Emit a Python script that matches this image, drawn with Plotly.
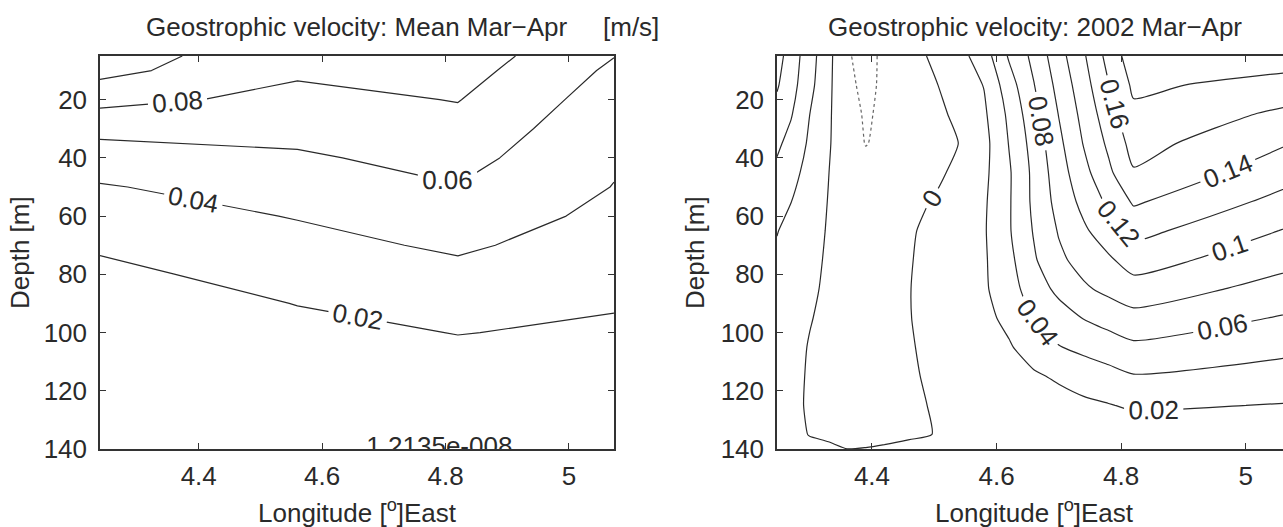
import plotly.graph_objects as go

# ---------------- data: mean Mar-Apr section ----------------
lon_mean = [4.24, 4.56, 4.82, 5.073]
depth_mean = [5, 10, 20, 30, 40, 50, 60, 70, 80, 90, 100, 110, 120, 130, 140]
# rows = depth, columns = longitude  [m/s]
vel_mean = [
    [0.110, 0.086, 0.0914, 0.0605],
    [0.106, 0.083, 0.0879, 0.0565],
    [0.086, 0.0745, 0.0807, 0.0505],
    [0.0655, 0.066, 0.0736, 0.0455],
    [0.0505, 0.0575, 0.0664, 0.0425],
    [0.0385, 0.0492, 0.0593, 0.0395],
    [0.0305, 0.041, 0.0513, 0.035],
    [0.0225, 0.034, 0.043, 0.0305],
    [0.0155, 0.0273, 0.0348, 0.026],
    [0.0085, 0.0205, 0.0276, 0.0215],
    [0.0045, 0.0145, 0.0205, 0.017],
    [0.003, 0.0105, 0.0145, 0.0125],
    [0.002, 0.007, 0.0095, 0.008],
    [0.001, 0.0035, 0.0045, 0.004],
    [0.0, 0.0, 0.0, 0.0],
]

# ---------------- data: 2002 Mar-Apr section ----------------
lon_2002 = [4.2475, 4.27, 4.30, 4.33, 4.36, 4.39, 4.42, 4.46, 4.50, 4.54,
            4.58, 4.62, 4.66, 4.70, 4.74, 4.78, 4.82, 5.07]
depth_2002 = [5, 15, 25, 35, 45, 55, 65, 75, 85, 95, 105, 115, 125, 135, 140]
vel_2002 = [
    [0.068, 0.0507, 0.0285, 0.0054, -0.0184, -0.025, -0.0168, -0.0069, 0.0031, 0.0133, 0.0304, 0.0622, 0.0853, 0.1124, 0.1376, 0.1667, 0.192, 0.19],
    [0.062, 0.0475, 0.0256, 0.0041, -0.0166, -0.0235, -0.0174, -0.0095, -0.0016, 0.009, 0.0207, 0.0512, 0.0793, 0.1062, 0.1318, 0.1593, 0.1838, 0.1722],
    [0.0533, 0.0416, 0.0201, 0.0029, -0.0147, -0.0215, -0.0176, -0.0111, -0.0046, 0.0039, 0.0168, 0.044, 0.0733, 0.1007, 0.1263, 0.1514, 0.1756, 0.1555],
    [0.0438, 0.0333, 0.017, 0.002, -0.013, -0.0205, -0.017, -0.011, -0.0055, 0.0002, 0.0138, 0.0407, 0.0679, 0.0953, 0.1211, 0.1438, 0.1674, 0.1405],
    [0.0356, 0.0262, 0.0135, 0.0004, -0.011, -0.0155, -0.0135, -0.0085, -0.005, 0.0054, 0.0156, 0.0377, 0.0648, 0.0909, 0.1139, 0.1361, 0.1583, 0.1271],
    [0.0282, 0.0203, 0.0096, -0.0006, -0.008, -0.0115, -0.010, -0.006, 0.0014, 0.0094, 0.0174, 0.038, 0.0642, 0.0868, 0.1058, 0.1239, 0.1425, 0.1129],
    [0.0207, 0.0145, 0.0063, -0.0013, -0.006, -0.008, -0.007, -0.002, 0.0047, 0.0114, 0.0182, 0.0381, 0.0615, 0.0815, 0.0969, 0.1112, 0.1262, 0.0981],
    [0.017, 0.0116, 0.0043, -0.002, -0.005, -0.0065, -0.006, -0.001, 0.0054, 0.0115, 0.0177, 0.0347, 0.0577, 0.076, 0.0875, 0.0971, 0.1092, 0.0854],
    [0.015, 0.0098, 0.003, -0.003, -0.0055, -0.0065, -0.0055, -0.0004, 0.0055, 0.0114, 0.0173, 0.0316, 0.05, 0.0648, 0.077, 0.085, 0.0916, 0.0718],
    [0.013, 0.0078, 0.0009, -0.004, -0.006, -0.0065, -0.0055, -0.0005, 0.0049, 0.0103, 0.0158, 0.024, 0.041, 0.051, 0.0607, 0.0672, 0.0738, 0.0578],
    [0.011, 0.0056, -0.001, -0.004, -0.0055, -0.006, -0.0055, -0.0012, 0.0037, 0.0086, 0.0135, 0.0184, 0.0277, 0.0391, 0.0451, 0.0505, 0.056, 0.0446],
    [0.009, 0.0041, -0.0015, -0.004, -0.005, -0.0055, -0.005, -0.0017, 0.0022, 0.0061, 0.01, 0.0139, 0.0178, 0.0223, 0.0278, 0.0332, 0.0387, 0.0317],
    [0.007, 0.0031, -0.0015, -0.0035, -0.0045, -0.005, -0.0045, -0.002, 0.0008, 0.0034, 0.006, 0.0086, 0.0112, 0.0139, 0.0165, 0.0191, 0.0226, 0.019],
    [0.005, 0.0024, -0.0003, -0.002, -0.004, -0.004, -0.003, -0.001, 0.0001, 0.0012, 0.0022, 0.0032, 0.0042, 0.0052, 0.0061, 0.0071, 0.008, 0.011],
    [0.005, 0.003, 0.0022, 0.002, 0.00005, 0.00044, 0.0013, 0.0018, 0.002, 0.0025, 0.003, 0.0033, 0.0035, 0.0037, 0.0038, 0.0039, 0.004, 0.007],
]

# tick labels
lon_ticks = [4.4, 4.6, 4.8, 5.0]
lon_ticktext = ["4.4", "4.6", "4.8", "5"]
depth_ticks = [20, 40, 60, 80, 100, 120, 140]
depth_ticktext = ["20", "40", "60", "80", "100", "120", "140"]

# the near-zero contour label of the mean section (MATLAB level value)
zero_label = "1.2135e-008"
zero_label_lon = 4.79
zero_label_depth = 139.9

W, H = 1283, 527
FONT = "Liberation Sans, Arial, sans-serif"
INK = "#2a2a2a"
FS = 26

fig = go.Figure()

line_scale = [[0, INK], [1, INK]]

fig.add_trace(go.Contour(
    x=lon_mean, y=depth_mean, z=vel_mean, xaxis="x", yaxis="y",
    autocontour=False,
    contours=dict(coloring="lines", start=0.02, end=0.1001, size=0.02,
                  showlabels=True, labelformat=".2~f",
                  labelfont=dict(size=FS, color=INK, family=FONT)),
    line=dict(width=1.2, smoothing=0),
    colorscale=line_scale, showscale=False, hoverinfo="skip"))

fig.add_trace(go.Scatter(
    x=[zero_label_lon], y=[zero_label_depth], mode="text", text=[zero_label],
    textposition="middle center", textfont=dict(size=FS, color=INK, family=FONT),
    cliponaxis=True, xaxis="x", yaxis="y", hoverinfo="skip", showlegend=False))

fig.add_trace(go.Contour(
    x=lon_2002, y=depth_2002, z=vel_2002, xaxis="x2", yaxis="y2",
    autocontour=False,
    contours=dict(coloring="lines", start=0.0, end=0.1801, size=0.02,
                  showlabels=True, labelformat=".2~f",
                  labelfont=dict(size=FS, color=INK, family=FONT)),
    line=dict(width=1.2, smoothing=0.6),
    colorscale=line_scale, showscale=False, hoverinfo="skip"))

fig.add_trace(go.Contour(
    x=lon_2002, y=depth_2002, z=vel_2002, xaxis="x2", yaxis="y2",
    autocontour=False,
    contours=dict(coloring="lines", start=-0.02, end=-0.019, size=0.02,
                  showlabels=True, labelformat=".2~f",
                  labelfont=dict(size=FS, color=INK, family=FONT)),
    line=dict(width=1.2, smoothing=0.6, dash="dot"),
    colorscale=[[0, "#666"], [1, "#666"]], showscale=False, hoverinfo="skip"))

def px_x(p):
    return p / W

def px_y(p):
    return 1 - p / H

axis_common = dict(showline=True, linecolor="#333", linewidth=1.5, ticks="inside",
                   ticklen=6, tickwidth=1, tickcolor="#333", showgrid=False,
                   zeroline=False, automargin=False,
                   tickfont=dict(size=FS, color=INK, family=FONT))

fig.update_layout(
    width=W, height=H, margin=dict(l=0, r=0, t=0, b=0, autoexpand=False),
    paper_bgcolor="white", plot_bgcolor="white", showlegend=False,
    font=dict(family=FONT, size=FS, color=INK),
    xaxis=dict(domain=[px_x(100), px_x(614)], range=[4.24, 5.073], anchor="y",
               tickvals=lon_ticks, ticktext=lon_ticktext, mirror="ticks",
               ticklabelstandoff=3, **axis_common),
    yaxis=dict(domain=[px_y(449), px_y(56)], range=[140, 5], anchor="x",
               tickvals=depth_ticks, ticktext=depth_ticktext, mirror="ticks",
               ticklabelstandoff=6, **axis_common),
    xaxis2=dict(domain=[px_x(777), 1.0], range=[4.2475, 5.06], anchor="y2",
                tickvals=lon_ticks, ticktext=lon_ticktext, mirror="ticks",
                ticklabelstandoff=3, **axis_common),
    yaxis2=dict(domain=[px_y(449), px_y(56)], range=[140, 5], anchor="x2",
                tickvals=depth_ticks, ticktext=depth_ticktext, mirror=False,
                ticklabelstandoff=6, **axis_common),
)

ann = [
    dict(text="Geostrophic velocity: Mean Mar\u2212Apr", x=px_x(357), y=px_y(27)),
    dict(text="[m/s]", x=px_x(631), y=px_y(27)),
    dict(text="Geostrophic velocity: 2002 Mar\u2212Apr", x=px_x(1035), y=px_y(27)),
    dict(text="Longitude [<sup>o</sup>]East", x=px_x(357), y=px_y(511)),
    dict(text="Longitude [<sup>o</sup>]East", x=px_x(1034), y=px_y(511)),
    dict(text="Depth [m]", x=px_x(20), y=px_y(253), textangle=-90),
    dict(text="Depth [m]", x=px_x(695), y=px_y(253), textangle=-90),
]
for a in ann:
    fig.add_annotation(xref="paper", yref="paper", showarrow=False,
                       xanchor="center", yanchor="middle",
                       font=dict(size=FS, color=INK, family=FONT), **a)

fig.write_html("out.html")
